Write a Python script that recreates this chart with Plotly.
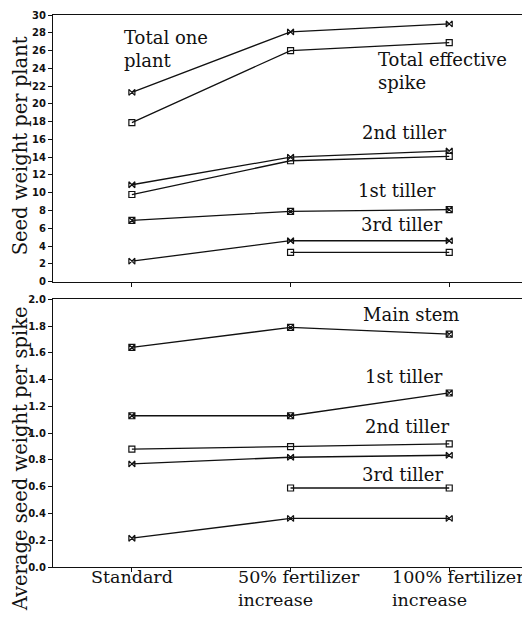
import plotly.graph_objects as go

categories = ["Standard", "50% fertilizer<br>increase", "100% fertilizer<br>increase"]
xpos = [0, 1, 2]

# Top panel: seed weight per plant
total_one_plant = [21.3, 28.1, 29.0]
total_effective_spike = [17.9, 26.0, 26.9]
tiller2_plant = [10.9, 14.0, 14.7]
tiller2_effective = [9.8, 13.6, 14.1]
tiller1_plant = [6.9, 7.9, 8.1]
tiller3_plant = [2.3, 4.6, 4.6]
tiller3_effective = [None, 3.3, 3.3]

# Bottom panel: average seed weight per spike
main_stem_spike = [1.64, 1.79, 1.74]
tiller1_spike = [1.13, 1.13, 1.30]
tiller2_spike_eff = [0.88, 0.90, 0.92]
tiller2_spike_all = [0.77, 0.82, 0.835]
tiller3_spike_eff = [None, 0.59, 0.59]
tiller3_spike_all = [0.215, 0.363, 0.363]

top_ticks = list(range(0, 31, 2))
bottom_ticks = [0.0, 0.2, 0.4, 0.6, 0.8, 1.0, 1.2, 1.4, 1.6, 1.8, 2.0]

INK = "#111111"
SERIF = "DejaVu Serif"

fig = go.Figure()

def add(y, sym, xa, ya):
    fig.add_trace(go.Scatter(
        x=xpos, y=y, mode="lines+markers", xaxis=xa, yaxis=ya,
        line=dict(color=INK, width=1.3),
        marker=dict(symbol=sym, size=6, color=INK, line=dict(color=INK, width=1.2)),
        showlegend=False, connectgaps=False))

add(total_one_plant, "bowtie-open", "x", "y")
add(total_effective_spike, "square-open", "x", "y")
add(tiller2_plant, "bowtie-open", "x", "y")
add(tiller2_effective, "square-open", "x", "y")
add(tiller1_plant, "square-x-open", "x", "y")
add(tiller3_plant, "bowtie-open", "x", "y")
add(tiller3_effective, "square-open", "x", "y")

add(main_stem_spike, "square-x-open", "x2", "y2")
add(tiller1_spike, "square-x-open", "x2", "y2")
add(tiller2_spike_eff, "square-open", "x2", "y2")
add(tiller2_spike_all, "bowtie-open", "x2", "y2")
add(tiller3_spike_eff, "square-open", "x2", "y2")
add(tiller3_spike_all, "bowtie-open", "x2", "y2")

tickfont = dict(family="DejaVu Sans", size=10, color=INK, weight="bold")
xcommon = dict(range=[-0.497, 2.49], tickvals=xpos, ticktext=["", "", ""],
               ticks="outside", ticklen=4, tickcolor=INK, showline=True,
               linecolor=INK, linewidth=1.3, mirror=True, showgrid=False,
               zeroline=False)

fig.update_layout(
    width=522, height=618,
    margin=dict(l=45, r=2, t=2, b=59),
    paper_bgcolor="white", plot_bgcolor="white",
    xaxis=dict(domain=[0, 1], anchor="y", **xcommon),
    yaxis=dict(domain=[0.517, 1.0], range=[0, 30], tickvals=top_ticks,
               ticks="outside", ticklen=4, tickcolor=INK, tickfont=tickfont,
               showline=True, linecolor=INK, linewidth=1.3, mirror=True,
               showgrid=False, zeroline=False),
    xaxis2=dict(domain=[0, 1], anchor="y2", **xcommon),
    yaxis2=dict(domain=[0.0, 0.485], range=[0, 2.0], tickvals=bottom_ticks,
                ticktext=[f"{v:.1f}" for v in bottom_ticks],
                ticks="outside", ticklen=4, tickcolor=INK, tickfont=tickfont,
                showline=True, linecolor=INK, linewidth=1.3, mirror=True,
                showgrid=False, zeroline=False),
)

lab = dict(family=SERIF, size=18, color=INK)
anns = [
    ("Total one<br>plant", -0.063, 26.2, "x", "y"),
    ("Total effective<br>spike", 1.54, 23.7, "x", "y"),
    ("2nd tiller", 1.44, 16.8, "x", "y"),
    ("1st tiller", 1.415, 10.25, "x", "y"),
    ("3rd tiller", 1.43, 6.45, "x", "y"),
    ("Main stem", 1.447, 1.89, "x2", "y2"),
    ("1st tiller", 1.455, 1.42, "x2", "y2"),
    ("2nd tiller", 1.455, 1.05, "x2", "y2"),
    ("3rd tiller", 1.44, 0.694, "x2", "y2"),
]
for text, x, y, xr, yr in anns:
    fig.add_annotation(text=text, x=x, y=y, xref=xr, yref=yr, xanchor="left",
                       yanchor="middle", align="left", showarrow=False, font=lab)

# category labels under bottom panel
xlab_font = dict(family=SERIF, size=17.5, color=INK)
xlab_pos = [(0, "center"), (1 - 0.345, "left"), (2 - 0.375, "left")]
for cat, (x, anc) in zip(categories, xlab_pos):
    fig.add_annotation(text=cat, x=x, y=0, xref="x2", yref="paper", xanchor=anc,
                       yanchor="top", yshift=2, align="left", showarrow=False,
                       font=xlab_font)

ytitle = dict(family=SERIF, size=19.5, color=INK)
fig.add_annotation(text="Seed weight per plant", x=0, y=0.763, xref="paper",
                   yref="paper", textangle=-90, showarrow=False, font=ytitle,
                   xanchor="left", yanchor="middle", xshift=-45, borderpad=0)
fig.add_annotation(text="Average seed weight per spike", x=0, y=0.196, xref="paper",
                   yref="paper", textangle=-90, showarrow=False, font=ytitle,
                   xanchor="left", yanchor="middle", xshift=-45, borderpad=0)

fig.write_html("out.html")
